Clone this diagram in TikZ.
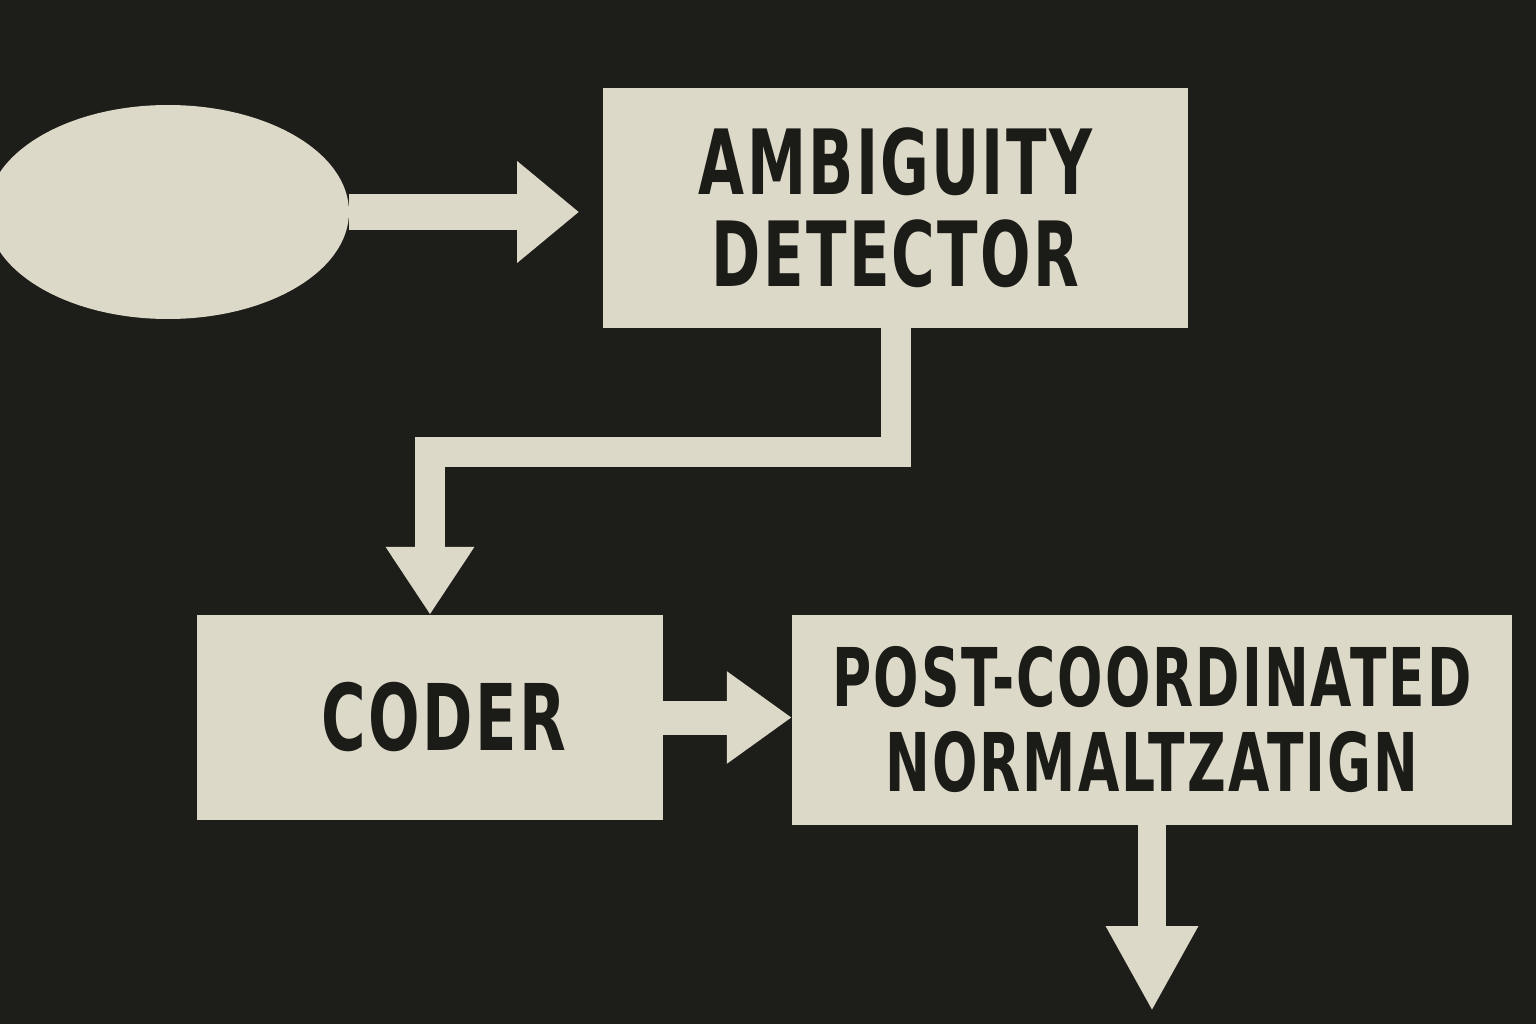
\documentclass[tikz,border=0pt]{standalone}
\usepackage{fontspec}
\usepackage{tikz}
\usetikzlibrary{shapes.geometric, arrows.meta, positioning}
\newfontfamily\stencil{DejaVu Sans}[FakeStretch=0.66, LetterSpace=2.5]
\definecolor{board}{HTML}{1D1D19}
\definecolor{chalk}{HTML}{DDD9C9}
\definecolor{ink}{HTML}{1B1B17}
\tikzset{
  box/.style={fill=chalk, text=ink, align=center, inner sep=0pt},
  flow/.style={draw=chalk, line width=#1, line join=miter},
}

\begin{document}
\begin{tikzpicture}[x=1pt, y=-1pt]
\useasboundingbox (0,0) rectangle (1536,1024);
\clip (0,0) rectangle (1536,1024);
\fill[board] (0,0) rectangle (1536,1024);
\node[ellipse, fill=chalk, inner sep=0pt, minimum width=362pt, minimum height=214pt] (src) at (168,212) {};
\node[box, minimum width=585pt, minimum height=240pt, font=\stencil\bfseries\fontsize{90}{92}\selectfont] (det) at (895.5,208) {AMBIGUITY\\DETECTOR};
\node[box, minimum width=466pt, minimum height=205pt, font=\stencil\bfseries\fontsize{92}{92}\selectfont] (coder) at (430,717.5) {\hspace*{28pt}CODER};
\node[box, minimum width=720pt, minimum height=210pt, font=\stencil\bfseries\fontsize{81}{85}\selectfont] (post) at (1152,720) {POST-COORDINATED\\NORMALTZATIGN};
\coordinate (gap) at (579,212);
\coordinate (bend) at (0,452);
\path (post.south) ++(0,186) coordinate (sink);
\draw[flow=36pt, -{Triangle[length=62pt, width=98pt]}] (src.east) -- (gap);
\draw[flow=30pt, -{Triangle[length=68pt, width=84pt]}] (det.south) -- (det.south |- bend) -| (coder.north);
\draw[flow=34pt, -{Triangle[length=65pt, width=88pt]}] (coder.east) -- (coder.east -| post.west);
\draw[flow=28pt, -{Triangle[length=85pt, width=86pt]}] (post.south) -- (sink);
\end{tikzpicture}
\end{document}
